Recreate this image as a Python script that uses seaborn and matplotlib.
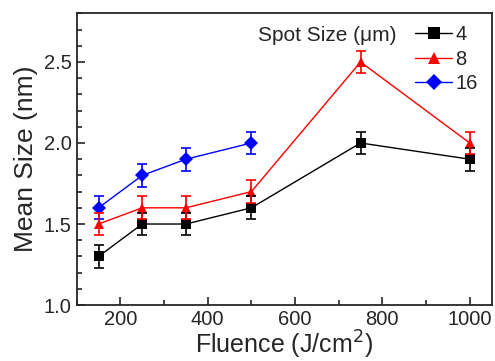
import pandas as pd
import matplotlib
matplotlib.use("Agg")
import matplotlib.pyplot as plt
from matplotlib.ticker import MultipleLocator
from matplotlib.lines import Line2D
import seaborn as sns

# data
fluence = [150, 250, 350, 500, 750, 1000]
size_4 = [1.3, 1.5, 1.5, 1.6, 2.0, 1.9]
size_8 = [1.5, 1.6, 1.6, 1.7, 2.5, 2.0]
fluence_16 = [150, 250, 350, 500]
size_16 = [1.6, 1.8, 1.9, 2.0]
err_4 = [0.07, 0.07, 0.07, 0.07, 0.07, 0.07]
err_8 = [0.07, 0.07, 0.07, 0.07, 0.07, 0.07]
err_16 = [0.07, 0.07, 0.07, 0.07]
spots = ['4', '8', '16']

sns.set_style("ticks")
plt.rcParams['font.family'] = ['Liberation Sans', 'DejaVu Sans']

df = pd.concat([
    pd.DataFrame({'fluence': fluence, 'size': size_4, 'err': err_4, 'spot': '4'}),
    pd.DataFrame({'fluence': fluence, 'size': size_8, 'err': err_8, 'spot': '8'}),
    pd.DataFrame({'fluence': fluence_16, 'size': size_16, 'err': err_16, 'spot': '16'}),
])

colors = {'4': 'black', '8': 'red', '16': 'blue'}
markers = {'4': 's', '8': '^', '16': 'D'}

fig, ax = plt.subplots(figsize=(4.95, 3.61), dpi=100)
sns.lineplot(data=df, x='fluence', y='size', hue='spot', style='spot',
             palette=colors, markers=markers, dashes=False, linewidth=1.0,
             markersize=7, markeredgewidth=0, ax=ax, legend=False)
for spot, g in df.groupby('spot'):
    ax.errorbar(g['fluence'], g['size'], yerr=g['err'], fmt='none',
                ecolor=colors[spot], elinewidth=1.2, capsize=3.5, capthick=1.2)

ax.set_xlim(100, 1050)
ax.set_ylim(1.0, 2.8)
ax.xaxis.set_major_locator(MultipleLocator(200))
ax.xaxis.set_minor_locator(MultipleLocator(100))
ax.yaxis.set_major_locator(MultipleLocator(0.5))
ax.yaxis.set_minor_locator(MultipleLocator(0.1))
ax.tick_params(which='both', direction='in', width=1.2, labelsize=14.5)
ax.tick_params(which='major', length=6)
ax.tick_params(which='minor', length=3.5)
for s in ax.spines.values():
    s.set_linewidth(1.3)

ax.set_xlabel('Fluence (J/cm$^2$)', fontsize=18, labelpad=0)
ax.set_ylabel('Mean Size (nm)', fontsize=19, labelpad=4)

handles = [Line2D([], [], color=colors[s], marker=markers[s], markersize=8,
                  markeredgewidth=0, linewidth=1.0) for s in spots]
ax.legend(handles, spots, loc='upper left', frameon=False, fontsize=14.5,
          handlelength=1.85, handletextpad=0.15, labelspacing=0.27,
          numpoints=1, bbox_to_anchor=(0.796, 0.986), borderaxespad=0)
ax.text(0.437, 0.925, 'Spot Size (μm)', transform=ax.transAxes, fontsize=15,
        va='center', ha='left')

fig.subplots_adjust(left=0.155, right=0.993, top=0.963, bottom=0.155)
fig.savefig('out.png', dpi=100)
